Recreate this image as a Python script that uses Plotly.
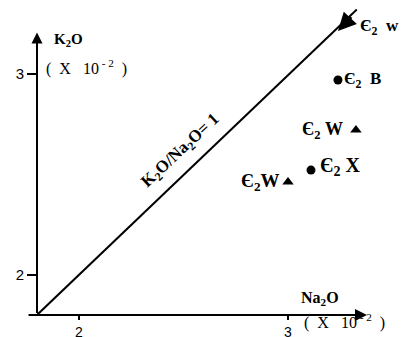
import plotly.graph_objects as go

# Na2O and K2O (x 10^-2) of the samples
dot_names = ["Є<sub>2</sub>&nbsp;&nbsp;B", "Є<sub>2</sub>&nbsp;X"]
dot_na2o = [3.240, 3.111]
dot_k2o = [2.969, 2.521]

tri_names = ["Є<sub>2</sub>&nbsp;W", "Є<sub>2</sub>W"]
tri_na2o = [3.326, 3.001]
tri_k2o = [2.720, 2.462]

# sample pointed at on the ratio line
arrow_name = "Є<sub>2</sub>&nbsp;&nbsp;w"
arrow_na2o = 3.240
arrow_k2o = 3.213

# K2O/Na2O = 1 line
ratio_na2o = [1.80, 3.33]
ratio_k2o = [1.80, 3.32]

x_ticks = [2, 3]
y_ticks = [2, 3]

serif = "Liberation Serif"
sans = "Liberation Sans"
unit = "(&nbsp;&nbsp;X&nbsp;&nbsp;&nbsp;10<sup>&nbsp;-&nbsp;2</sup>&nbsp;&nbsp;)"

x_range = [1.8, 1.8 + 375 / 209]
y_range = [1.8, 1.8 + 307 / 201]

fig = go.Figure()

fig.add_trace(go.Scatter(
    x=ratio_na2o, y=ratio_k2o, mode="lines",
    line=dict(color="black", width=2), cliponaxis=False, hoverinfo="skip"))

fig.add_trace(go.Scatter(
    x=dot_na2o, y=dot_k2o, mode="markers",
    marker=dict(symbol="circle", size=9, color="black")))

fig.add_trace(go.Scatter(
    x=tri_na2o, y=tri_k2o, mode="markers",
    marker=dict(symbol="triangle-up", size=10, color="black")))

# axes drawn as arrows (paper coords so the heads are not clipped)
fig.add_annotation(x=0, y=(3.205 - y_range[0]) / (y_range[1] - y_range[0]),
                   xref="paper", yref="paper", ax=0, ay=282, text="",
                   showarrow=True, arrowhead=2, arrowsize=1.1, arrowwidth=2,
                   arrowcolor="black", standoff=0)
fig.add_annotation(x=(3.379 - x_range[0]) / (x_range[1] - x_range[0]), y=0,
                   xref="paper", yref="paper", ax=-340, ay=0, text="",
                   showarrow=True, arrowhead=2, arrowsize=1.2, arrowwidth=2,
                   arrowcolor="black", standoff=0)

# arrow marking the sample on the line
fig.add_annotation(x=arrow_na2o, y=arrow_k2o, ax=3.31, ay=3.29, xref="x", yref="y",
                   axref="x", ayref="y", text="", showarrow=True,
                   arrowhead=2, arrowsize=1.2, arrowwidth=3, arrowcolor="black")
fig.add_annotation(x=3.336, y=3.233, text="<b>" + arrow_name + "</b>",
                   showarrow=False, xanchor="left", yanchor="middle",
                   font=dict(family=serif, size=17, color="black"))

# point labels
fig.add_annotation(x=dot_na2o[0] + 0.02, y=dot_k2o[0], text="<b>" + dot_names[0] + "</b>",
                   showarrow=False, xanchor="left", yanchor="middle",
                   font=dict(family=serif, size=17, color="black"))
fig.add_annotation(x=dot_na2o[1] + 0.035, y=dot_k2o[1] + 0.02, text="<b>" + dot_names[1] + "</b>",
                   showarrow=False, xanchor="left", yanchor="middle",
                   font=dict(family=serif, size=20, color="black"))
fig.add_annotation(x=tri_na2o[0] - 0.05, y=tri_k2o[0], text="<b>" + tri_names[0] + "</b>",
                   showarrow=False, xanchor="right", yanchor="middle",
                   font=dict(family=serif, size=18, color="black"))
fig.add_annotation(x=tri_na2o[1] - 0.03, y=tri_k2o[1], text="<b>" + tri_names[1] + "</b>",
                   showarrow=False, xanchor="right", yanchor="middle",
                   font=dict(family=serif, size=19, color="black"))

# line label
fig.add_annotation(x=2.489, y=2.616, text="<b>K<sub>2</sub>O/Na<sub>2</sub>O= 1</b>",
                   showarrow=False, textangle=-43,
                   font=dict(family=serif, size=17, color="black"))

# axis titles
fig.add_annotation(x=1.872, y=3.168, text="<b>K<sub>2</sub>O</b>", showarrow=False,
                   xanchor="left", yanchor="middle",
                   font=dict(family=serif, size=15, color="black"))
fig.add_annotation(x=1.832, y=3.03, text=unit, showarrow=False,
                   xanchor="left", yanchor="middle",
                   font=dict(family=serif, size=16, color="black"))
fig.add_annotation(x=3.155, y=1.88, text="<b>Na<sub>2</sub>O</b>", showarrow=False,
                   xanchor="center", yanchor="middle",
                   font=dict(family=serif, size=16, color="black"))
fig.add_annotation(x=3.07, y=-0.022, xref="x", yref="paper",
                   text=unit, showarrow=False,
                   xanchor="left", yanchor="middle",
                   font=dict(family=serif, size=16, color="black"))

fig.update_xaxes(range=x_range, tickvals=x_ticks, ticks="outside",
                 ticklen=4, tickwidth=1.5, tickcolor="black", showline=False,
                 showgrid=False, zeroline=False, automargin=False,
                 tickfont=dict(family=sans, size=14, color="black"))
fig.update_yaxes(range=y_range, tickvals=y_ticks, ticks="outside",
                 ticklen=9, tickwidth=1.5, tickcolor="black", showline=False,
                 showgrid=False, zeroline=False, automargin=False,
                 tickfont=dict(family=sans, size=15, color="black"))

# the page adds an 8 px body margin, so the figure is 8 px smaller each way
fig.update_layout(
    width=404, height=329,
    margin=dict(l=29, r=0, t=0, b=22),
    paper_bgcolor="white", plot_bgcolor="white",
    showlegend=False,
)

fig.write_html("out.html")
